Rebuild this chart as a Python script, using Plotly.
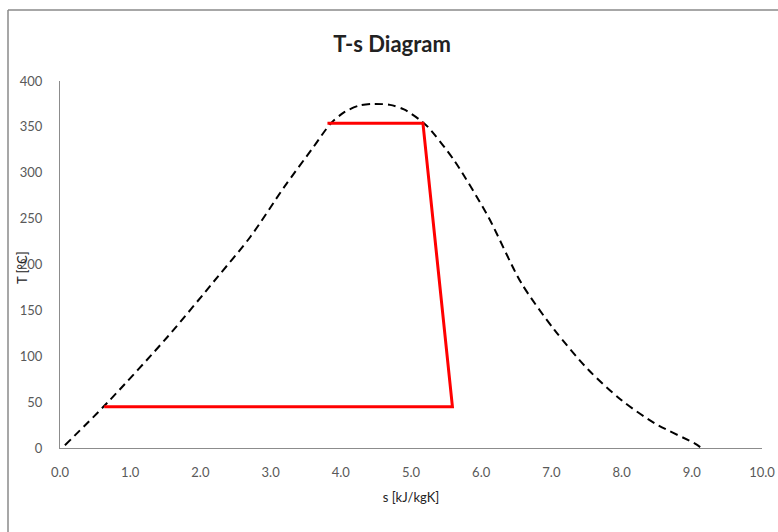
import plotly.graph_objects as go

# Saturation dome (dashed)
dome_s = [0.07, 0.67, 1.53, 2.24, 2.71, 3.19, 3.61, 3.86, 4.05, 4.25, 4.45, 4.7, 4.9, 5.12,
          5.24, 5.61, 6.10, 6.57, 7.04, 7.53, 8.0, 8.47, 9.04, 9.12]
dome_T = [3, 49, 121, 186, 230, 284, 328, 354, 366, 373, 375, 374, 369, 358,
          350, 314, 252, 180, 129, 85, 52, 27, 5, 1]

# Rankine cycle (red)
cycle_s = [3.81, 5.17, 5.59, 0.63]
cycle_T = [354, 354, 45, 45]

x_ticks = [0, 1, 2, 3, 4, 5, 6, 7, 8, 9, 10]
x_labels = ["0.0", "1.0", "2.0", "3.0", "4.0", "5.0", "6.0", "7.0", "8.0", "9.0", "10.0"]
y_ticks = [0, 50, 100, 150, 200, 250, 300, 350, 400]

fig = go.Figure()
fig.add_trace(go.Scatter(x=dome_s, y=dome_T, mode="lines",
                         line=dict(color="black", width=2, dash="8px,5px", shape="spline", smoothing=0.8),
                         showlegend=False))
fig.add_trace(go.Scatter(x=cycle_s, y=cycle_T, mode="lines",
                         line=dict(color="#FF0000", width=3),
                         showlegend=False))

font_family = "Lato, Open Sans, sans-serif"

W, H = 778, 532
L, T, R, B = 60, 81, 16, 84
PW, PH = W - L - R, H - T - B

fig.update_layout(
    width=W, height=H,
    margin=dict(l=L, r=R, t=T, b=B, autoexpand=False),
    paper_bgcolor="white", plot_bgcolor="white",
    font=dict(family=font_family, color="#595959", size=13),
    title=dict(text="<b>T-s Diagram</b>", x=392 / W, xanchor="center",
               y=1 - 44 / H, yanchor="middle",
               font=dict(family=font_family, size=22, color="#222222")),
    xaxis=dict(range=[0, 10], tickvals=x_ticks, ticktext=x_labels, showgrid=False, zeroline=False,
               showline=True, linecolor="#8c8c8c", linewidth=1, ticks="", ticklabelstandoff=12,
               automargin=False, tickfont=dict(size=13, color="#595959"),
               title=dict(text="s [kJ/kgK]", font=dict(size=13, color="#222222"), standoff=14)),
    yaxis=dict(range=[0, 400], tickvals=y_ticks, showgrid=False, zeroline=False,
               showline=True, linecolor="#8c8c8c", linewidth=1, ticks="", ticklabelstandoff=14,
               automargin=False, tickfont=dict(size=13, color="#595959")),
)

# Y axis title placed like the original (overlapping the tick labels)
fig.add_annotation(text="T [°C]", textangle=-90, xref="paper", yref="paper",
                   x=(22 - L) / PW, y=(448 - 268) / PH, showarrow=False,
                   font=dict(size=13, color="#222222", family=font_family),
                   xanchor="center", yanchor="middle")

# Chart frame lines
left_x = (8 - L) / PW
top_y = (448 - 10) / PH
fig.add_shape(type="line", xref="paper", yref="paper", x0=left_x, x1=left_x,
              y0=top_y, y1=-(532 - 448) / PH - 0.02, line=dict(color="#8a8a8a", width=1.5))
fig.add_shape(type="line", xref="paper", yref="paper", x0=left_x, x1=(778 - L) / PW + 0.02,
              y0=top_y, y1=top_y, line=dict(color="#8a8a8a", width=1.5))

fig.write_html("out.html",
               config={"displayModeBar": False},
               post_script="document.body.style.margin='0px';document.body.style.overflow='hidden';")
